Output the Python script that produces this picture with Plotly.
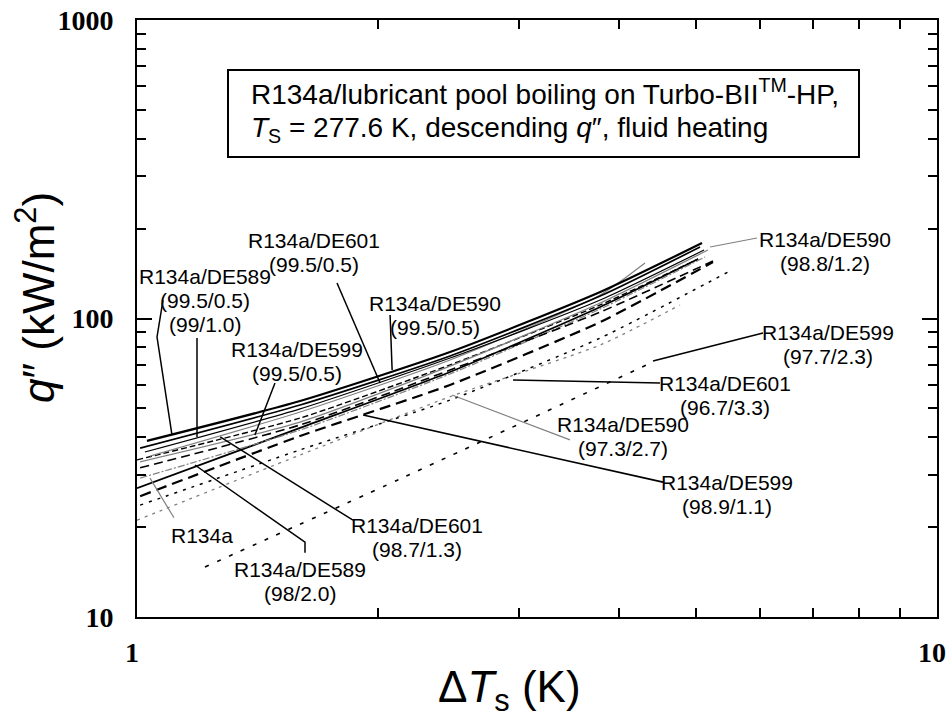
import numpy as np
import plotly.graph_objects as go

# ---------------- data: wall superheat dT_s (K) vs heat flux q'' (kW/m^2) ----------------
dT_589_995 = [1.029, 1.599, 2.462, 3.793, 5.085]
q_589_995 = [38.9, 52.9, 77.2, 122.7, 179.0]
dT_589_990 = [1.009, 1.599, 2.462, 3.793, 5.056]
q_589_990 = [36.8, 51.3, 74.9, 118.9, 173.6]
dT_601_995 = [1.023, 1.599, 2.462, 3.793, 5.115]
q_601_995 = [35.7, 49.8, 73.7, 115.3, 169.6]
dT_590_995 = [1.038, 1.599, 2.462, 3.793, 4.315]
q_590_995 = [34.6, 48.6, 72.6, 119.9, 153.4]
dT_590_988 = [1.009, 1.599, 2.462, 3.793, 5.173]
q_590_988 = [33.1, 45.0, 69.3, 112.7, 169.6]
dT_601_987 = [1.000, 1.599, 2.462, 3.793, 5.027]
q_601_987 = [33.6, 46.4, 69.9, 111.0, 158.2]
dT_599_995 = [1.009, 1.599, 2.462, 3.793, 5.248]
q_599_995 = [31.6, 44.0, 67.2, 105.1, 155.8]
dT_r134a = [1.009, 1.599, 2.462, 3.793, 5.129]
q_r134a = [29.2, 42.3, 65.2, 107.6, 160.7]
dT_589_980 = [1.000, 1.599, 2.462, 3.793, 5.027]
q_589_980 = [27.0, 43.0, 66.2, 109.3, 158.2]
dT_599_989 = [1.009, 1.599, 2.462, 3.793, 5.248]
q_599_989 = [25.4, 40.4, 59.9, 97.3, 154.6]
dT_601_967 = [1.009, 1.599, 2.462, 3.793, 5.481]
q_601_967 = [23.7, 36.3, 53.3, 86.0, 143.2]
dT_590_973 = [1.000, 1.599, 2.476, 3.793, 4.773]
q_590_973 = [21.1, 34.9, 55.0, 81.5, 111.0]
dT_599_977 = [1.216, 2.132, 4.416]
q_599_977 = [14.7, 29.0, 71.5]

# leader lines (label -> curve), data units
lead_589_995_x = [1.0777, 1.0593, 1.1060]; lead_589_995_q = [115.3, 86.7, 40.7]
lead_589_990_x = [1.1885, 1.1885];         lead_589_990_q = [86.0, 40.1]
lead_601_995_x = [1.7783, 2.0131];         lead_601_995_q = [131.5, 60.8]
lead_590_995_x = [2.0718, 2.0840];         lead_590_995_q = [102.7, 67.2]
lead_599_995_x = [1.4876, 1.4040];         lead_599_995_q = [60.8, 40.7]
lead_r134a_x = [1.1122, 1.0381];           lead_r134a_q = [21.5, 29.2]
lead_601_987_x = [1.8621, 1.2706];         lead_601_987_q = [21.1, 40.1]
lead_589_980_x = [1.6218, 1.6218, 1.1814]; lead_589_980_q = [16.4, 17.8, 32.3]
lead_590_988_x = [5.9566, 5.2036];         lead_590_988_q = [186.1, 173.6]
lead_599_977_x = [6.0605, 4.4157];         lead_599_977_q = [89.4, 72.0]
lead_601_967_x = [4.5060, 2.9512];         lead_601_967_q = [60.8, 62.2]
lead_590_973_x = [3.4774, 2.4765];         lead_590_973_q = [39.2, 55.4]
lead_599_989_x = [4.5443, 1.9171];         lead_599_989_q = [28.3, 47.5]

# curve labels (lines of each label, and the label's centre)
label_lines = [
    ["R134a/DE601", "(99.5/0.5)"],
    ["R134a/DE589", "(99.5/0.5)", "(99/1.0)"],
    ["R134a/DE590", "(99.5/0.5)"],
    ["R134a/DE599", "(99.5/0.5)"],
    ["R134a"],
    ["R134a/DE601", "(98.7/1.3)"],
    ["R134a/DE589", "(98/2.0)"],
    ["R134a/DE590", "(98.8/1.2)"],
    ["R134a/DE599", "(97.7/2.3)"],
    ["R134a/DE601", "(96.7/3.3)"],
    ["R134a/DE590", "(97.3/2.7)"],
    ["R134a/DE599", "(98.9/1.1)"],
]
label_x = [1.6643, 1.2162, 2.3576, 1.5849, 1.2058, 2.2387, 1.5992, 7.2444, 7.3073, 5.4325, 4.0504, 5.4639]
label_q = [167.0, 115.3, 102.7, 71.5, 18.8, 18.4, 13.2, 168.3, 82.1, 55.4, 40.4, 25.8]

# axis ticks
x_tickvals = [1, 10]
x_ticktext = ["1", "10"]
y_tickvals = [10, 100, 1000]
y_ticktext = ["10", "100", "1000"]
x_minor = [2, 3, 4, 5, 6, 7, 8, 9]
y_minor = [20, 30, 40, 50, 60, 70, 80, 90, 200, 300, 400, 500, 600, 700, 800, 900]

title_line1 = "R134a/lubricant pool boiling on Turbo-BII<sup>TM</sup>-HP,"
title_line2 = "<i>T</i><sub>S</sub> = 277.6 K, descending <i>q</i>\u2033, fluid heating"

# ---------------- figure ----------------
BLACK = "black"
GRAY = "#808080"
curves = [
    (dT_590_973, q_590_973, GRAY, 1.3, "3px,5px"),
    (dT_601_967, q_601_967, BLACK, 1.5, "3px,6px"),
    (dT_599_977, q_599_977, BLACK, 1.6, "4px,9px"),
    (dT_599_989, q_599_989, BLACK, 2.2, "11px,6px"),
    (dT_589_980, q_589_980, BLACK, 1.8, "solid"),
    (dT_r134a, q_r134a, GRAY, 1.2, "7px,2px,2px,2px"),
    (dT_599_995, q_599_995, BLACK, 1.6, "9px,5px"),
    (dT_601_987, q_601_987, BLACK, 1.4, "6px,3px"),
    (dT_590_988, q_590_988, GRAY, 1.3, "solid"),
    (dT_590_995, q_590_995, GRAY, 1.2, "solid"),
    (dT_601_995, q_601_995, BLACK, 1.2, "solid"),
    (dT_589_990, q_589_990, BLACK, 1.7, "solid"),
    (dT_589_995, q_589_995, BLACK, 2.2, "solid"),
]

fig = go.Figure()
for xs, ys, col, w, dash in curves:
    fig.add_trace(go.Scatter(x=xs, y=ys, mode="lines",
                             line=dict(color=col, width=w, dash=dash, shape="spline", smoothing=0.6),
                             showlegend=False, hoverinfo="skip"))

leaders = [
    (lead_589_995_x, lead_589_995_q, BLACK, 1.5),
    (lead_589_990_x, lead_589_990_q, BLACK, 1.5),
    (lead_601_995_x, lead_601_995_q, BLACK, 1.5),
    (lead_590_995_x, lead_590_995_q, BLACK, 1.5),
    (lead_599_995_x, lead_599_995_q, BLACK, 1.5),
    (lead_r134a_x, lead_r134a_q, GRAY, 1.2),
    (lead_601_987_x, lead_601_987_q, BLACK, 1.5),
    (lead_589_980_x, lead_589_980_q, BLACK, 1.5),
    (lead_590_988_x, lead_590_988_q, GRAY, 1.2),
    (lead_599_977_x, lead_599_977_q, BLACK, 1.6),
    (lead_601_967_x, lead_601_967_q, BLACK, 1.6),
    (lead_590_973_x, lead_590_973_q, GRAY, 1.2),
    (lead_599_989_x, lead_599_989_q, BLACK, 1.6),
]
for xs, ys, col, w in leaders:
    fig.add_trace(go.Scatter(x=xs, y=ys, mode="lines", line=dict(color=col, width=w),
                             showlegend=False, hoverinfo="skip"))

LINE_GAP = 24  # px between label lines
label_font = dict(family="Liberation Sans, Arial, sans-serif", size=21, color="black")
for lines, xv, yv in zip(label_lines, label_x, label_q):
    n = len(lines)
    for i, t in enumerate(lines):
        fig.add_annotation(x=np.log10(xv), y=np.log10(yv), xref="x", yref="y", text=t,
                           showarrow=False, font=label_font, xanchor="center", yanchor="middle",
                           yshift=((n - 1) / 2 - i) * LINE_GAP)

# boxed title
fig.add_shape(type="rect", xref="paper", yref="paper", x0=0.11375, x1=0.9025, y0=0.7705, y1=0.9162,
              line=dict(color="black", width=2), fillcolor="white", layer="above")
box_font = dict(family="Liberation Sans, Arial, sans-serif", size=28, color="black")
fig.add_annotation(xref="paper", yref="paper", x=0.14, y=0.879, text=title_line1, showarrow=False,
                   xanchor="left", yanchor="middle", font=box_font)
fig.add_annotation(xref="paper", yref="paper", x=0.14, y=0.816, text=title_line2, showarrow=False,
                   xanchor="left", yanchor="middle", font=box_font)

# axis titles
axis_title_font = dict(family="Liberation Sans, Arial, sans-serif", size=44, color="black")
fig.add_annotation(xref="paper", yref="paper", x=-0.127, y=0.535, textangle=-90,
                   text="<i>q</i>\u2033 (kW/m<sup>2</sup>)", showarrow=False,
                   xanchor="center", yanchor="middle", font=axis_title_font)
fig.add_annotation(xref="paper", yref="paper", x=0.466, y=-0.122,
                   text="\u0394<i>T</i><sub>s</sub> (K)", showarrow=False,
                   xanchor="center", yanchor="middle", font=axis_title_font)

tick_font = dict(family="Liberation Serif, Times New Roman, serif", size=28, color="black", weight="bold")
common = dict(type="log", showgrid=False, zeroline=False, showline=True, linecolor="black", linewidth=2,
              mirror="ticks", ticks="inside", ticklen=15, tickwidth=2, tickcolor="black",
              tickmode="array", tickfont=tick_font, automargin=False, ticklabeloverflow="allow")
fig.update_xaxes(**common, range=[0, 1], tickvals=x_tickvals, ticktext=x_ticktext,
                 ticklabelstandoff=9, ticklabelshift=-5,
                 minor=dict(ticks="inside", ticklen=9, tickwidth=1.6, tickcolor="black",
                            tickmode="array", tickvals=x_minor, showgrid=False))
fig.update_yaxes(**common, range=[1, 3], tickvals=y_tickvals, ticktext=y_ticktext,
                 ticklabelstandoff=16,
                 minor=dict(ticks="inside", ticklen=9, tickwidth=1.6, tickcolor="black",
                            tickmode="array", tickvals=y_minor, showgrid=False))

fig.update_layout(width=949, height=719, margin=dict(l=137, r=12, t=20, b=102),
                  paper_bgcolor="white", plot_bgcolor="white", showlegend=False)

fig.write_html("out.html")
